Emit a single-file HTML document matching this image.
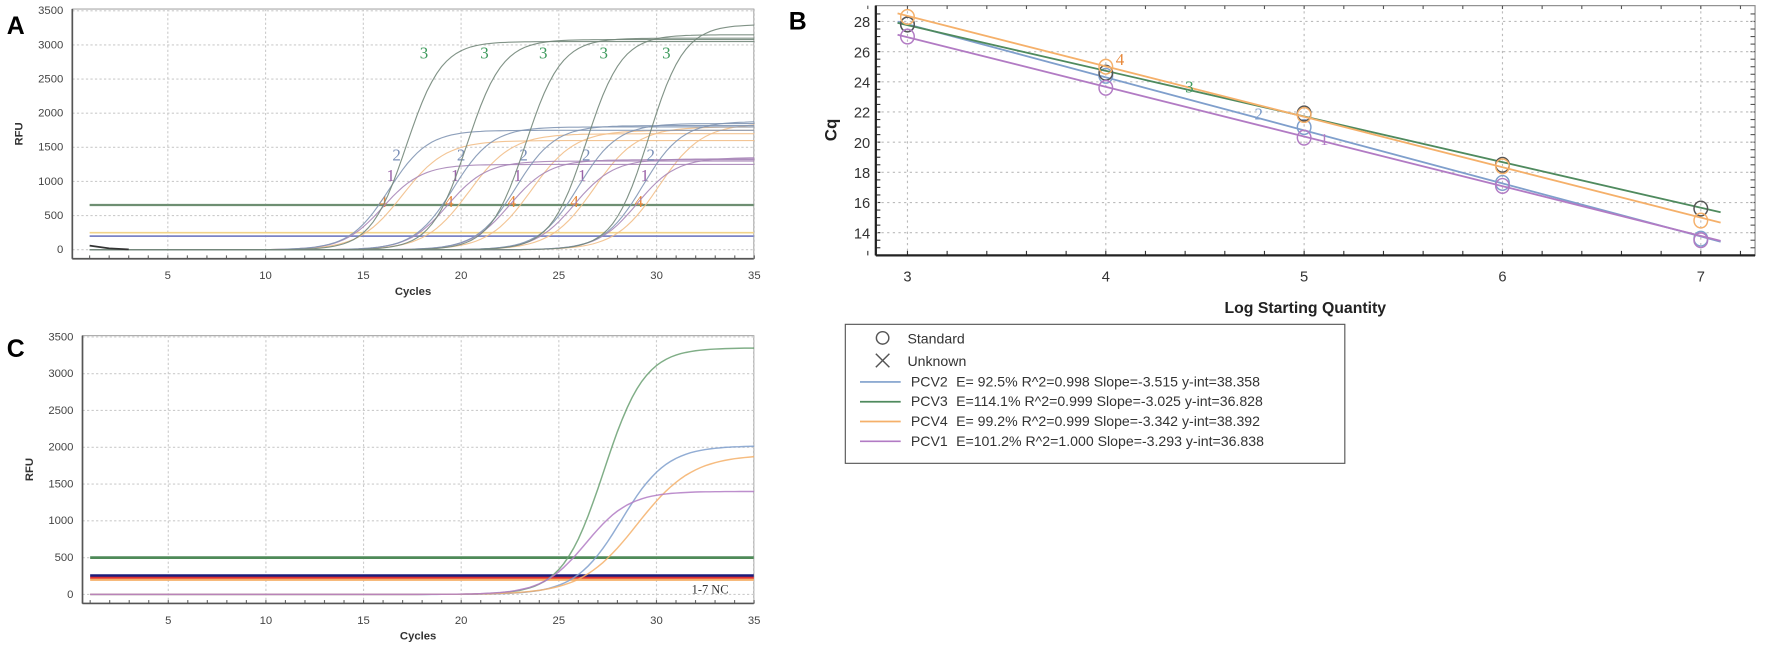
<!DOCTYPE html>
<html><head><meta charset="utf-8"><style>
html,body{margin:0;padding:0;background:#fff;}
svg{display:block;font-family:"Liberation Sans",Arial,sans-serif;}
</style></head><body>
<svg id="fig" width="1772" height="656" viewBox="0 0 1568 580.5" preserveAspectRatio="none" xmlns="http://www.w3.org/2000/svg">
<g id="panelA"></g>
<g id="panelB"></g>
<g id="panelC"></g>
<g id="legendB"></g>
</svg>
<script>
// ---------- data ----------
const cycleTicks = [5,10,15,20,25,30,35];
const rfuTicks = [0,500,1000,1500,2000,2500,3000,3500];
const aMidPCV3 = [17.2,20.3,23.3,26.4,29.6];
const aMidPCV2 = [16.3,19.6,22.8,26.0,29.3];
const aMidPCV1 = [16.0,19.3,22.5,25.8,29.0];
const aMidPCV4 = [17.0,20.4,23.6,26.8,30.1];
const aPlatPCV3 = [3050,3080,3100,3150,3300];
const aPlatPCV2 = [1750,1800,1820,1850,1880];
const aPlatPCV1 = [1250,1300,1320,1330,1350];
const aPlatPCV4 = [1600,1700,1750,1800,1850];
const aThresholds = [655,250,200];
const logQty = [3,4,5,6,7];
const bTicksX = [3,4,5,6,7];
const bTicksY = [14,16,18,20,22,24,26,28];
const cqPCV2 = [27.8,24.4,21.0,17.3,13.6];
const cqPCV3 = [27.8,24.6,21.9,18.5,15.6];
const cqPCV4 = [28.3,25.0,21.8,18.4,14.8];
const cqPCV1 = [27.0,23.6,20.3,17.1,13.5];
const slopes = [-3.515,-3.025,-3.342,-3.293];
const intercepts = [38.358,36.828,38.392,36.838];
const legendNames = ["PCV2","PCV3","PCV4","PCV1"];
const legendTexts = ["E= 92.5% R^2=0.998 Slope=-3.515 y-int=38.358","E=114.1% R^2=0.999 Slope=-3.025 y-int=36.828","E= 99.2% R^2=0.999 Slope=-3.342 y-int=38.392","E=101.2% R^2=1.000 Slope=-3.293 y-int=36.838"];
const cMid = [27.3,28.2,29.0,26.4];
const cPlat = [3350,2020,1900,1400];
const cThresholds = [500,255,225,200];

const COL = {blue:"#7f9fcc",green:"#5f9a6c",orange:"#f5b06a",purple:"#b27bc4"};
const NS="http://www.w3.org/2000/svg";
function mk(tag,attrs,parent,text){const e=document.createElementNS(NS,tag);for(const k in attrs)e.setAttribute(k,attrs[k]);if(text!==undefined)e.textContent=text;parent.appendChild(e);return e;}

function ampPanel(g, o){
  const xs=c=>o.x0+(c-o.c0)*o.kx;
  const ys=v=>o.y0-v*o.ky;
  mk('rect',{x:o.left,y:o.top,width:o.right-o.left,height:o.bottom-o.top,fill:'#fff',stroke:'#aaa','stroke-width':1},g);
  cycleTicks.forEach(t=>{
    const l=mk('line',{x1:xs(t),x2:xs(t),y1:o.top,y2:o.bottom,stroke:'#ccc','stroke-dasharray':'2,2'},g);
    
    
    const tx=mk('text',{x:xs(t),y:o.bottom+18,'font-size':10,fill:'#444','text-anchor':'middle'},g,t);
    
    
  });
  for(let c=1;c<=35;c++){mk('line',{x1:xs(c),x2:xs(c),y1:o.bottom,y2:o.bottom-3,stroke:'#666'},g);}
  rfuTicks.forEach(t=>{
    const l=mk('line',{x1:o.left,x2:o.right,y1:ys(t),y2:ys(t),stroke:'#ccc','stroke-dasharray':'2,2'},g);
    
    
    const tx=mk('text',{x:o.left-8,y:ys(t)+3,'font-size':10,fill:'#444','text-anchor':'end'},g,t);
    
    
  });
  mk('line',{x1:o.left,x2:o.left,y1:o.top,y2:o.bottom,stroke:'#555','stroke-width':1.5},g);
  mk('line',{x1:o.left,x2:o.right,y1:o.bottom,y2:o.bottom,stroke:'#555','stroke-width':1.5},g);
  const yl=mk('text',{x:o.left-44,y:(o.top+o.bottom)/2,'font-size':10,'font-weight':'bold',fill:'#333','text-anchor':'middle',transform:`rotate(-90 ${o.left-44} ${(o.top+o.bottom)/2})`},g,'RFU');
  
  
  const xl=mk('text',{x:(o.left+o.right)/2,y:o.bottom+32,'font-size':10,'font-weight':'bold',fill:'#333','text-anchor':'middle'},g,'Cycles');
  
  
  return {xs,ys};
}
function curve(g,s,mid,plat,k,color,w,op){
  let d='';
  for(let c=1;c<=35;c+=0.25){
    const v=plat/(1+Math.exp(-k*(c-mid)));
    d+=(d?'L':'M')+s.xs(c).toFixed(1)+','+s.ys(v).toFixed(1);
  }
  const p=mk('path',{d,fill:'none',stroke:color,'stroke-width':w||1,opacity:op||0.85},g);
  
  
}

// ---------- Panel A ----------
const gA=document.getElementById('panelA');
mk('text',{x:6,y:30,'font-size':22,'font-weight':'bold',fill:'#000'},gA,'A');
const sA=ampPanel(gA,{left:64,right:667,top:8,bottom:229,x0:62,c0:0,kx:17.3,y0:221,ky:0.0604});
aThresholds.forEach((t,i)=>{
  const cl=['#6e8f72','#f2d48a','#7b84c6'][i];
  const l=mk('line',{x1:sA.xs(1),x2:667,y1:sA.ys(t),y2:sA.ys(t),stroke:cl,'stroke-width':i==0?2:1.5},gA);
  
  
});
const seriesA=[[aMidPCV4,aPlatPCV4,'#f2bf8a',0.9,'4',183,'#e8883a'],[aMidPCV1,aPlatPCV1,'#a886b8',1.0,'1',160,'#9a62a8'],[aMidPCV2,aPlatPCV2,'#8296b4',1.0,'2',142,'#7a90b8'],[aMidPCV3,aPlatPCV3,'#73877a',1.1,'3',52,'#3d9a5c']];
seriesA.forEach(([mids,plats,col,k,lab,ly,lc])=>{
  mids.forEach((m,i)=>{
    curve(gA,sA,m,plats[i],k,col,1,0.9);
    const t=mk('text',{x:sA.xs(m+(lab==='3'?0.9:lab==='4'?-1:0.4)),y:ly,'font-size':15,'font-family':'Liberation Serif,serif',fill:lc,'text-anchor':'middle'},gA,lab);
    
    
  });
});
mk('path',{d:`M${sA.xs(1)},${sA.ys(60)} L${sA.xs(2)},${sA.ys(20)} L${sA.xs(3)},${sA.ys(5)}`,stroke:'#333',fill:'none','stroke-width':1.5},gA);

// ---------- Panel B ----------
const gB=document.getElementById('panelB');
mk('text',{x:698,y:26,'font-size':22,'font-weight':'bold',fill:'#000'},gB,'B');
const bx=v=>803+(v-3)*175.5;
const by=v=>19+(28-v)*13.35;
mk('rect',{x:775,y:5,width:778,height:221,fill:'#fff',stroke:'#888'},gB);
bTicksX.forEach(t=>{
  mk('line',{x1:bx(t),x2:bx(t),y1:5,y2:226,stroke:'#bbb','stroke-dasharray':'2,3'},gB);
  const tx=mk('text',{x:bx(t),y:249,'font-size':13,fill:'#333','text-anchor':'middle'},gB,t);
  
  
});
for(let v=2.8;v<=7.6;v+=0.2){mk('line',{x1:bx(v),x2:bx(v),y1:226,y2:222,stroke:'#333'},gB);mk('line',{x1:bx(v),x2:bx(v),y1:5,y2:8,stroke:'#555'},gB);}
for(let v=13;v<=28.8;v+=0.5){mk('line',{x1:1553,x2:1549,y1:by(v),y2:by(v),stroke:'#555'},gB);mk('line',{x1:775,x2:779,y1:by(v),y2:by(v),stroke:'#333'},gB);}
bTicksY.forEach(t=>{
  mk('line',{x1:775,x2:1553,y1:by(t),y2:by(t),stroke:'#bbb','stroke-dasharray':'2,3'},gB);
  const tx=mk('text',{x:770,y:by(t)+5,'font-size':13,fill:'#333','text-anchor':'end'},gB,t);
  
  
});
mk('line',{x1:775,x2:775,y1:5,y2:226,stroke:'#222','stroke-width':2},gB);
mk('line',{x1:775,x2:1553,y1:226,y2:226,stroke:'#222','stroke-width':2},gB);
const bxl=mk('text',{x:1155,y:277,'font-size':14,'font-weight':'bold',fill:'#222','text-anchor':'middle'},gB,'Log Starting Quantity');


const byl=mk('text',{x:740,y:115,'font-size':15,'font-weight':'bold',fill:'#222','text-anchor':'middle',transform:'rotate(-90 740 115)'},gB,'Cq');


const bCols=[COL.blue,'#4f8a5e',COL.orange,COL.purple];
const bData=[cqPCV2,cqPCV3,cqPCV4,cqPCV1];
bData.forEach((arr,i)=>{
  const x1=2.95,x2=7.1;
  const l=mk('line',{x1:bx(x1),y1:by(slopes[i]*x1+intercepts[i]),x2:bx(x2),y2:by(slopes[i]*x2+intercepts[i]),stroke:bCols[i],'stroke-width':1.6},gB);
  
  
  arr.forEach((v,j)=>{
    const c=mk('ellipse',{cx:bx(logQty[j]),cy:by(v),rx:6,ry:6.5,fill:'none',stroke:i==1?'#555':bCols[i],'stroke-width':1.3},gB);
    
    
  });
});
[['4',4.05,25.1,'#e8883a'],['3',4.4,23.3,'#3d9a5c'],['2',4.75,21.5,COL.blue],['1',5.08,19.8,COL.purple]].forEach(([t,x,y,c])=>{
  mk('text',{x:bx(x),y:by(y),'font-size':15,'font-family':'Liberation Serif,serif',fill:c},gB,t);
});

// ---------- Legend ----------
const gL=document.getElementById('legendB');
mk('rect',{x:748,y:287,width:442,height:123,fill:'#fff',stroke:'#555'},gL);
mk('circle',{cx:781,cy:299,r:5.5,fill:'none',stroke:'#555','stroke-width':1.3},gL);
mk('text',{x:803,y:304,'font-size':12.5,fill:'#333'},gL,'Standard');
mk('path',{d:'M775,313 L787,325 M787,313 L775,325',stroke:'#555','stroke-width':1.3},gL);
mk('text',{x:803,y:324,'font-size':12.5,fill:'#333'},gL,'Unknown');
legendNames.forEach((n,i)=>{
  const y=342+i*17.5;
  const l=mk('line',{x1:761,x2:797,y1:y-4,y2:y-4,stroke:bCols[i],'stroke-width':1.5},gL);
  
  
  const t=mk('text',{x:806,y:y,'font-size':12.5,fill:'#333'},gL,n);
  
  
  mk('text',{x:846,y:y,'font-size':12.5,fill:'#333'},gL,legendTexts[i]);
});

// ---------- Panel C ----------
const gC=document.getElementById('panelC');
mk('text',{x:6,y:316,'font-size':22,'font-weight':'bold',fill:'#000'},gC,'C');
const sC=ampPanel(gC,{left:73,right:667,top:297,bottom:534,x0:62.5,c0:0,kx:17.28,y0:526,ky:0.0651});
const cThCols=['#4e8a58','#1c1c7a','#e03030','#f5b06a'];
cThresholds.forEach((t,i)=>{
  const l=mk('line',{x1:sC.xs(1),x2:667,y1:sC.ys(t),y2:sC.ys(t),stroke:cThCols[i],'stroke-width':i<2?2.5:2},gC);
  
  
});
const cCols=['#6aa072',COL.blue,COL.orange,COL.purple];
const cK=[0.95,0.85,0.7,0.9];
cMid.forEach((m,i)=>curve(gC,sC,m,cPlat[i],cK[i],cCols[i],1.3));
const nc=mk('text',{x:612,y:525,'font-size':11,'font-family':'Liberation Serif,serif',fill:'#333'},gC,'1-7  NC');


</script>
</body></html>
